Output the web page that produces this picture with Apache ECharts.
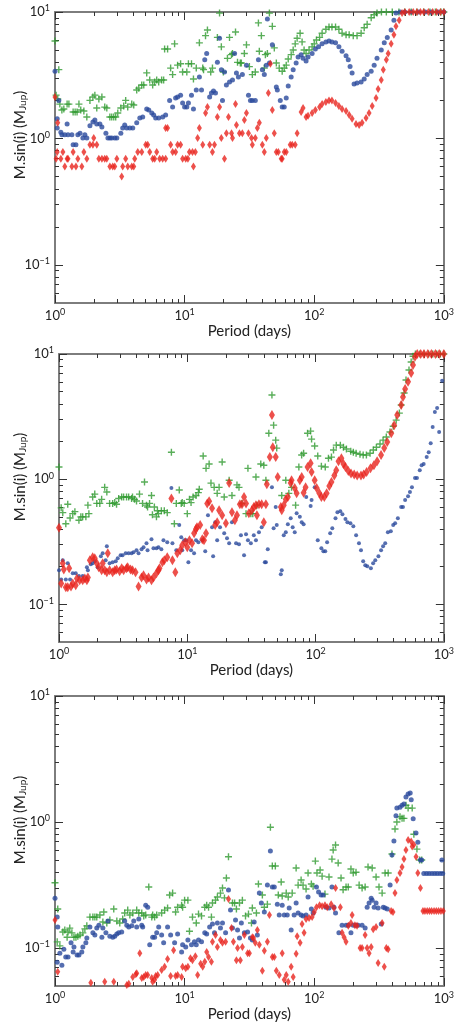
<!DOCTYPE html>
<html>
<head>
<meta charset="utf-8">
<script src="https://cdn.jsdelivr.net/npm/echarts@6/dist/echarts.min.js"></script>
<style>
  html, body { margin: 0; padding: 0; background: #fff; }
  #chart { width: 457px; height: 1026px; }
</style>
</head>
<body>
<div id="chart"></div>
<script>
// tick values
const xMajor = [1, 10, 100, 1000];
const xMinor = [2, 3, 4, 5, 6, 7, 8, 9, 20, 30, 40, 50, 60, 70, 80, 90, 200, 300, 400, 500, 600, 700, 800, 900];
const yMajor = [0.1, 1, 10];
const yMinor = [0.06, 0.07, 0.08, 0.09, 0.2, 0.3, 0.4, 0.5, 0.6, 0.7, 0.8, 0.9, 2, 3, 4, 5, 6, 7, 8, 9];

// panel 1  [period (days), M sin i (MJup)]
const p1Green = [[1.0,5.9],[1.07,3.5],[1.02,2.2],[1.05,2.05],[1.09,1.87],[1.13,1.68],[1.17,1.71],[1.24,1.87],[1.28,1.87],[1.38,1.62],[1.43,1.62],[1.48,1.62],[1.53,1.87],[1.58,1.68],[1.67,1.65],[1.76,1.48],[1.86,2.0],[1.96,2.13],[2.03,2.2],[2.10,1.74],[2.18,2.05],[2.30,2.13],[2.42,1.77],[2.51,1.74],[2.65,1.48],[2.74,1.48],[2.84,1.48],[2.94,1.48],[3.05,1.59],[3.22,1.74],[3.39,1.81],[3.51,2.0],[3.64,1.77],[3.91,1.87],[4.05,1.84],[4.27,2.42],[4.43,2.5],[4.67,2.65],[4.84,2.65],[5.10,3.3],[5.38,2.9],[5.67,2.65],[5.87,2.8],[6.09,2.9],[6.31,2.8],[6.65,2.9],[6.89,2.9],[7.01,5.1],[7.39,5.1],[7.80,3.6],[8.08,3.2],[8.37,5.6],[8.83,3.8],[9.31,3.9],[9.65,3.35],[10.4,3.35],[10.7,3.9],[11.3,3.9],[11.7,2.95],[12.3,3.6],[13.0,5.7],[13.8,3.6],[14.0,3.5],[14.5,6.5],[15.0,7.2],[15.9,3.35],[16.4,3.6],[17.9,6.3],[18.6,9.8],[19.2,5.3],[19.9,3.35],[21.4,4.3],[22.2,6.3],[23.0,4.6],[23.4,4.7],[24.7,6.95],[25.6,4.0],[26.9,3.95],[27.4,3.95],[28.9,4.7],[30.0,5.5],[31.6,3.7],[33.3,3.2],[35.1,3.35],[37.1,8.2],[37.7,4.9],[39.1,6.5],[41.2,3.6],[42.0,4.6],[43.5,4.7],[45.1,9.8],[47.5,7.7],[49.2,5.2],[51.0,3.95],[53.7,3.6],[56.6,3.4],[58.7,3.6],[60.8,3.8],[63.0,4.25],[66.4,4.6],[68.8,5.0],[71.3,5.6],[73.8,6.2],[77.8,6.8],[80.6,5.8],[83.5,5.0],[86.5,4.7],[91.2,5.0],[96.3,5.3],[100,5.6],[104,6.0],[110,6.3],[115,6.8],[123,7.3],[130,7.6],[137,7.6],[146,7.6],[155,7.3],[164,6.8],[176,6.6],[186,6.6],[200,6.5],[214,6.5],[230,6.8],[243,7.5],[256,8.0],[275,9.0],[290,9.5],[305,9.8],[330,10],[360,10],[400,10],[450,10],[500,10],[560,10],[620,10],[700,10],[780,10],[860,10],[950,10],[1000,10]];
const p1Blue = [[1.0,3.4],[1.07,2.0],[1.04,1.43],[1.04,1.21],[1.11,1.12],[1.13,1.07],[1.19,1.07],[1.24,1.30],[1.26,1.07],[1.35,1.07],[1.38,0.89],[1.45,0.89],[1.50,1.07],[1.56,1.10],[1.64,1.01],[1.70,1.07],[1.76,1.01],[1.86,1.26],[1.96,1.35],[2.03,1.40],[2.10,1.30],[2.22,1.30],[2.30,1.23],[2.47,1.10],[2.56,1.01],[2.65,1.01],[2.74,1.01],[2.89,1.01],[3.00,1.01],[3.22,1.10],[3.33,1.21],[3.45,1.28],[3.58,1.21],[3.78,1.21],[3.98,1.21],[4.27,1.33],[4.51,1.45],[4.75,1.48],[5.10,1.71],[5.29,1.68],[5.58,1.59],[5.77,1.53],[5.98,1.45],[6.31,1.45],[6.77,1.48],[7.14,1.53],[7.66,2.0],[8.08,1.77],[8.52,2.09],[8.83,2.13],[9.31,2.2],[9.65,1.91],[10.0,1.77],[10.4,1.77],[10.7,1.91],[11.3,2.2],[11.7,1.71],[12.3,2.42],[13.0,3.06],[13.5,2.42],[14.3,4.2],[14.8,4.7],[15.6,2.13],[16.1,2.29],[16.7,2.37],[17.3,2.29],[17.9,4.0],[18.6,6.2],[19.2,3.5],[19.6,2.0],[20.3,3.35],[21.0,2.65],[22.2,2.8],[23.4,2.9],[24.3,4.7],[25.1,3.3],[26.0,3.06],[27.9,3.2],[30.0,3.8],[31.1,2.2],[32.2,2.0],[33.3,2.0],[35.1,2.0],[37.1,4.2],[39.8,3.5],[41.2,3.2],[42.7,3.8],[43.5,8.8],[45.1,3.95],[47.5,5.5],[51.0,2.55],[51.9,2.42],[54.7,2.0],[56.6,1.77],[58.7,1.77],[60.8,2.09],[63.0,2.6],[66.4,3.06],[68.8,3.5],[72.5,3.95],[75.1,4.4],[79.2,4.6],[82.0,4.3],[86.5,4.1],[89.6,4.4],[96.3,4.7],[102,5.1],[108,5.3],[115,5.6],[123,5.8],[130,5.9],[137,5.8],[146,5.7],[155,5.3],[164,4.9],[176,4.5],[183,4.2],[189,3.7],[196,3.3],[203,2.7],[214,2.75],[230,2.8],[243,2.95],[256,3.2],[275,3.4],[290,3.8],[305,4.3],[329,5.0],[347,5.7],[366,6.3],[392,7.2],[412,8.6],[427,9.8],[460,10],[500,10],[560,10],[640,10],[720,10],[800,10],[900,10],[1000,10]];
const p1Red = [[1.0,2.13],[1.05,1.33],[1.04,0.78],[1.02,0.69],[1.11,0.69],[1.19,0.60],[1.15,0.78],[1.24,0.69],[1.26,0.69],[1.35,0.60],[1.38,0.78],[1.45,0.60],[1.50,0.69],[1.61,0.60],[1.67,0.78],[1.76,0.69],[1.86,0.89],[1.96,0.89],[1.99,1.01],[2.10,0.89],[2.18,0.69],[2.30,0.69],[2.42,0.69],[2.51,0.69],[2.65,0.60],[2.79,0.60],[2.89,0.60],[3.00,0.69],[3.27,0.50],[3.33,0.60],[3.51,0.69],[3.64,0.60],[3.91,0.60],[4.05,0.60],[4.12,0.69],[4.35,0.78],[4.67,0.78],[5.01,0.89],[5.19,0.89],[5.38,0.78],[5.67,0.69],[5.87,0.69],[6.09,0.78],[6.42,0.69],[6.77,0.69],[7.14,0.69],[7.14,1.21],[7.39,1.21],[7.80,0.89],[8.08,0.78],[8.52,0.78],[8.83,0.89],[9.31,0.89],[9.65,0.69],[10.2,0.69],[10.6,0.69],[10.9,0.78],[11.5,0.78],[11.7,0.60],[12.1,0.78],[12.6,1.01],[13.0,1.21],[13.8,0.89],[14.5,1.59],[15.0,1.77],[15.6,0.89],[16.4,0.78],[17.0,0.89],[17.9,1.48],[18.6,1.77],[19.2,1.01],[20.3,0.69],[21.0,1.10],[21.8,1.48],[23.0,1.10],[23.4,1.01],[24.7,1.87],[25.1,1.28],[26.5,1.10],[27.9,1.10],[28.9,1.40],[30.0,1.59],[31.1,1.10],[32.8,1.01],[33.3,0.89],[35.1,1.01],[36.4,1.21],[37.7,1.33],[39.8,0.89],[41.2,0.78],[42.7,1.01],[44.3,2.29],[45.9,3.9],[47.5,1.68],[49.2,1.10],[51.0,0.78],[52.8,0.78],[55.6,0.69],[56.6,0.69],[58.7,0.78],[60.8,0.78],[65.3,0.89],[67.6,0.89],[71.3,0.89],[73.8,1.10],[79.2,1.62],[82.0,1.74],[86.5,1.48],[89.6,1.51],[96.3,1.59],[102,1.68],[110,1.77],[115,1.87],[123,1.94],[130,2.0],[137,2.0],[146,1.91],[155,1.81],[164,1.71],[176,1.65],[186,1.53],[196,1.43],[210,1.30],[222,1.28],[234,1.33],[251,1.45],[265,1.59],[280,1.81],[300,2.09],[311,2.46],[329,2.9],[341,3.5],[360,4.2],[372,4.7],[392,5.6],[412,6.6],[427,7.7],[452,8.6],[476,9.8],[500,10],[540,10],[580,10],[620,10],[660,10],[700,10],[760,10],[820,10],[880,10],[940,10],[1000,10]];

// panel 2
const p2Green = [[1.0,1.25],[1.04,0.59],[1.07,0.54],[1.13,0.44],[1.17,0.63],[1.22,0.49],[1.28,0.53],[1.33,0.55],[1.43,0.47],[1.48,0.50],[1.53,0.50],[1.62,0.50],[1.68,0.62],[1.71,0.53],[1.83,0.72],[1.90,0.76],[1.97,0.64],[2.08,0.64],[2.15,0.69],[2.27,0.86],[2.36,0.79],[2.48,0.64],[2.62,0.64],[2.72,0.65],[2.81,0.63],[2.92,0.70],[3.08,0.72],[3.19,0.72],[3.36,0.72],[3.49,0.72],[3.68,0.70],[3.74,0.72],[3.88,0.69],[4.02,0.67],[4.24,0.76],[4.48,0.64],[4.64,0.95],[4.81,0.62],[4.90,0.60],[5.08,0.64],[5.26,0.74],[5.35,0.52],[5.54,0.60],[5.75,0.50],[5.85,0.56],[5.96,0.53],[6.28,0.56],[6.62,0.56],[6.98,0.54],[7.52,1.64],[7.93,0.44],[8.21,0.64],[8.66,0.82],[8.97,0.64],[9.13,0.65],[9.46,0.64],[10.0,0.53],[10.4,0.69],[10.7,0.65],[11.1,0.72],[11.7,0.74],[12.2,0.78],[12.4,0.83],[13.3,1.53],[14.0,1.22],[14.8,1.32],[15.3,0.93],[16.2,0.86],[17.1,0.77],[17.7,0.86],[18.7,1.37],[19.4,0.72],[21.2,0.98],[22.3,0.74],[24.4,0.90],[25.3,0.86],[26.7,0.64],[28.7,0.53],[29.7,1.22],[31.3,0.53],[32.4,0.53],[34.3,1.04],[34.9,0.62],[37.4,1.32],[39.5,1.29],[41.0,0.98],[43.2,2.33],[45.7,4.7],[47.1,2.70],[48.9,2.05],[49.8,1.77],[54.5,0.74],[58.6,0.98],[61.9,0.77],[65.0,0.86],[69.9,0.62],[74.1,1.25],[77.9,1.56],[80.7,1.61],[86.6,2.33],[91.5,2.42],[93.1,2.09],[98.4,1.84],[104,1.53],[111,1.27],[119,1.25],[126,1.47],[133,1.50],[138,1.71],[145,1.87],[156,1.87],[165,1.80],[174,1.74],[188,1.67],[197,1.64],[207,1.61],[222,1.58],[235,1.56],[249,1.56],[266,1.61],[282,1.71],[298,1.80],[318,1.91],[336,2.05],[356,2.17],[380,2.38],[403,2.65],[425,2.96],[450,3.37],[465,3.91],[490,4.88],[507,6.19],[535,7.45],[556,8.63],[575,9.6],[600,10],[650,10],[700,10],[760,10],[820,10],[880,10],[940,10],[1000,10]];
const p2Blue = [[1.0,0.187],[1.04,0.158],[1.07,0.225],[1.13,0.158],[1.17,0.213],[1.22,0.158],[1.28,0.177],[1.35,0.177],[1.43,0.168],[1.53,0.168],[1.65,0.198],[1.68,0.187],[1.77,0.209],[1.83,0.213],[1.90,0.221],[2.00,0.198],[2.12,0.242],[2.19,0.256],[2.31,0.225],[2.36,0.291],[2.48,0.213],[2.62,0.217],[2.77,0.221],[2.87,0.233],[3.02,0.247],[3.13,0.247],[3.31,0.256],[3.49,0.256],[3.68,0.256],[3.81,0.261],[4.02,0.270],[4.17,0.256],[4.40,0.275],[4.56,0.286],[4.81,0.308],[4.90,0.270],[5.26,0.331],[5.45,0.281],[5.75,0.281],[5.96,0.286],[6.28,0.275],[6.52,0.325],[6.98,0.313],[7.52,0.85],[7.66,0.308],[8.21,0.270],[8.66,0.43],[8.97,0.344],[9.13,0.270],[9.46,0.325],[9.82,0.325],[10.2,0.217],[10.7,0.270],[11.3,0.256],[11.7,0.325],[12.2,0.313],[13.1,0.325],[13.8,0.265],[14.5,0.515],[15.6,0.413],[15.9,0.242],[16.5,0.453],[17.1,0.325],[18.0,0.413],[19.4,0.370],[20.4,0.337],[21.2,0.308],[22.3,0.453],[24.0,0.308],[25.3,0.302],[26.2,0.356],[27.7,0.247],[28.7,0.363],[29.7,0.325],[31.3,0.308],[33.0,0.356],[34.3,0.325],[36.2,0.377],[38.0,0.413],[40.2,0.217],[41.0,0.217],[42.4,0.275],[45.7,0.86],[47.1,0.405],[48.9,0.60],[49.8,0.43],[53.6,0.174],[54.5,0.187],[56.5,0.356],[58.6,0.377],[60.8,0.436],[64.0,0.488],[66.3,0.413],[68.8,0.377],[71.2,0.535],[75.4,0.50],[78.0,0.453],[80.7,0.436],[84.6,0.72],[91.5,0.61],[93.1,0.68],[98.4,0.86],[104,0.325],[111,0.281],[115,0.265],[119,0.265],[123,0.313],[130,0.370],[135,0.405],[143,0.488],[148,0.545],[156,0.555],[162,0.525],[171,0.48],[177,0.453],[187,0.445],[197,0.42],[207,0.356],[218,0.308],[226,0.270],[235,0.221],[244,0.205],[253,0.201],[270,0.194],[281,0.213],[292,0.225],[309,0.242],[324,0.270],[336,0.291],[349,0.308],[366,0.377],[386,0.384],[403,0.43],[417,0.445],[438,0.488],[465,0.60],[480,0.60],[499,0.68],[526,0.73],[544,0.79],[564,0.86],[596,1.02],[617,1.02],[649,1.18],[671,1.29],[696,1.32],[735,1.50],[762,1.64],[790,1.94],[818,2.61],[851,3.44],[886,3.70],[919,2.38],[970,6.1]];
const p2Red = [[1.0,0.41],[1.04,0.147],[1.07,0.213],[1.09,0.19],[1.13,0.137],[1.17,0.137],[1.20,0.194],[1.24,0.139],[1.28,0.147],[1.35,0.142],[1.38,0.161],[1.45,0.156],[1.53,0.156],[1.59,0.161],[1.65,0.156],[1.68,0.164],[1.74,0.225],[1.83,0.238],[1.90,0.233],[1.97,0.213],[2.04,0.198],[2.15,0.187],[2.19,0.213],[2.27,0.187],[2.36,0.180],[2.40,0.256],[2.48,0.187],[2.62,0.180],[2.72,0.187],[2.81,0.19],[2.97,0.184],[3.08,0.194],[3.19,0.187],[3.36,0.194],[3.43,0.198],[3.61,0.19],[3.74,0.187],[3.95,0.180],[4.17,0.139],[4.40,0.164],[4.56,0.171],[4.81,0.158],[4.99,0.164],[5.26,0.156],[5.45,0.164],[5.75,0.177],[5.96,0.187],[6.07,0.194],[6.40,0.217],[6.62,0.225],[6.98,0.238],[7.52,0.70],[7.66,0.225],[8.07,0.180],[8.36,0.256],[8.81,0.270],[9.13,0.296],[9.65,0.313],[10.0,0.286],[10.4,0.325],[10.9,0.308],[11.3,0.370],[11.7,0.40],[11.9,0.413],[12.6,0.43],[13.1,0.331],[13.5,0.325],[14.0,0.370],[14.3,0.64],[14.8,0.667],[15.6,0.586],[16.5,0.43],[17.1,0.453],[17.7,0.565],[18.7,0.515],[20.0,0.445],[21.2,0.93],[22.3,0.545],[23.5,0.47],[24.4,0.515],[25.7,0.63],[26.7,0.63],[27.7,0.72],[28.7,0.64],[30.2,0.535],[31.9,0.565],[33.0,0.60],[34.3,0.62],[34.9,0.515],[36.2,0.63],[38.0,0.63],[39.5,0.453],[41.0,0.63],[41.7,0.91],[44.0,1.50],[45.7,3.25],[46.4,1.80],[48.9,1.50],[50.7,1.04],[53.6,0.60],[54.5,0.565],[56.5,0.62],[58.6,0.69],[60.8,0.72],[64.0,0.93],[65.0,0.98],[68.8,0.85],[71.2,0.77],[75.4,0.98],[78.0,1.04],[80.7,0.78],[83.6,0.86],[86.6,1.25],[91.5,1.34],[93.1,1.14],[98.4,0.98],[102,0.85],[107,0.77],[111,0.72],[117,0.72],[122,0.77],[128,0.88],[133,0.95],[140,1.07],[145,1.18],[151,1.39],[159,1.47],[165,1.32],[171,1.25],[180,1.16],[189,1.11],[200,1.09],[211,1.07],[226,1.07],[237,1.09],[250,1.14],[268,1.22],[285,1.29],[302,1.39],[324,1.56],[343,1.77],[362,1.98],[389,2.33],[410,2.70],[433,3.25],[465,3.91],[480,4.53],[499,5.25],[526,6.0],[556,7.05],[575,8.17],[596,9.5],[620,10],[660,10],[700,10],[750,10],[800,10],[860,10],[920,10],[1000,10]];

// panel 3
const p3Green = [[1.0,0.33],[1.05,0.204],[1.04,0.112],[1.09,0.104],[1.15,0.134],[1.19,0.139],[1.24,0.122],[1.26,0.134],[1.30,0.144],[1.35,0.132],[1.40,0.122],[1.45,0.122],[1.50,0.124],[1.56,0.127],[1.64,0.132],[1.70,0.142],[1.76,0.150],[1.86,0.176],[1.96,0.176],[2.03,0.176],[2.10,0.176],[2.22,0.183],[2.34,0.161],[2.38,0.193],[2.51,0.158],[2.65,0.167],[2.84,0.204],[3.00,0.164],[3.16,0.158],[3.33,0.170],[3.45,0.190],[3.64,0.200],[3.78,0.183],[3.98,0.190],[4.27,0.200],[4.43,0.190],[4.67,0.190],[4.84,0.180],[5.01,0.183],[5.29,0.305],[5.58,0.176],[5.67,0.183],[5.87,0.176],[6.09,0.183],[6.65,0.190],[7.01,0.200],[7.39,0.208],[7.66,0.264],[8.08,0.273],[8.52,0.193],[8.83,0.211],[9.48,0.219],[9.65,0.211],[10.0,0.240],[10.6,0.240],[10.9,0.136],[11.5,0.176],[12.3,0.158],[12.8,0.186],[13.5,0.180],[14.3,0.211],[14.8,0.219],[15.3,0.211],[16.1,0.176],[16.4,0.228],[17.3,0.240],[17.9,0.254],[18.9,0.273],[19.6,0.30],[20.3,0.25],[21.0,0.36],[21.8,0.53],[23.4,0.228],[24.3,0.228],[25.1,0.204],[26.5,0.228],[27.9,0.240],[29.5,0.180],[31.1,0.186],[32.8,0.158],[33.3,0.208],[35.8,0.190],[37.1,0.322],[39.8,0.264],[41.2,0.211],[43.5,0.223],[45.9,0.91],[47.5,0.448],[50.1,0.448],[52.8,0.264],[55.6,0.334],[56.6,0.259],[60.8,0.273],[63.0,0.254],[67.6,0.273],[72.5,0.432],[75.1,0.316],[79.2,0.347],[82.0,0.316],[86.5,0.294],[89.6,0.394],[95,0.322],[98,0.31],[102,0.49],[105,0.394],[111,0.416],[115,0.372],[121,0.268],[130,0.366],[137,0.508],[140,0.60],[146,0.657],[153,0.473],[161,0.36],[167,0.29],[176,0.305],[183,0.305],[192,0.424],[200,0.394],[210,0.40],[222,0.316],[234,0.30],[247,0.305],[260,0.44],[280,0.432],[300,0.366],[316,0.305],[334,0.273],[352,0.394],[372,0.394],[398,0.557],[420,0.88],[434,1.0],[459,1.10],[476,1.07],[492,1.07],[510,1.36],[530,1.29],[570,1.29],[587,0.80],[620,0.61],[650,0.50],[675,0.50]];
const p3Blue = [[1.0,0.249],[1.04,0.176],[1.05,0.147],[1.04,0.077],[1.09,0.091],[1.13,0.073],[1.17,0.098],[1.21,0.085],[1.26,0.085],[1.33,0.110],[1.38,0.093],[1.40,0.102],[1.48,0.088],[1.53,0.088],[1.61,0.093],[1.64,0.102],[1.73,0.110],[1.76,0.120],[1.86,0.147],[1.96,0.132],[2.03,0.127],[2.10,0.144],[2.18,0.152],[2.30,0.122],[2.34,0.144],[2.47,0.132],[2.56,0.164],[2.65,0.124],[2.79,0.122],[2.89,0.124],[3.00,0.129],[3.10,0.132],[3.27,0.134],[3.45,0.164],[3.58,0.152],[3.71,0.147],[3.91,0.150],[4.05,0.164],[4.27,0.147],[4.43,0.170],[4.67,0.152],[4.75,0.147],[5.01,0.219],[5.19,0.211],[5.38,0.106],[5.67,0.122],[5.87,0.122],[6.09,0.132],[6.31,0.147],[6.65,0.127],[6.89,0.110],[7.39,0.147],[7.80,0.127],[8.37,0.110],[8.83,0.129],[9.48,0.093],[9.65,0.106],[10.2,0.102],[10.6,0.116],[11.3,0.106],[11.9,0.112],[12.3,0.106],[12.8,0.116],[13.5,0.112],[14.3,0.132],[14.8,0.129],[15.6,0.147],[16.4,0.155],[17.0,0.132],[17.9,0.158],[18.9,0.144],[19.6,0.158],[20.7,0.132],[21.8,0.289],[22.6,0.200],[23.4,0.144],[24.7,0.167],[25.6,0.139],[26.5,0.120],[27.4,0.158],[28.9,0.132],[30.6,0.134],[32.2,0.120],[33.3,0.116],[34.4,0.161],[36.4,0.127],[37.7,0.273],[39.1,0.228],[41.2,0.193],[43.5,0.316],[45.9,0.59],[47.5,0.305],[49.2,0.305],[51.9,0.223],[53.7,0.183],[56.6,0.219],[58.7,0.183],[61.9,0.183],[64.1,0.208],[66.4,0.139],[70.0,0.183],[72.5,0.228],[75.1,0.190],[79.2,0.183],[82.0,0.180],[86.5,0.183],[89.6,0.254],[95,0.204],[98,0.190],[104,0.305],[108,0.278],[113,0.264],[117,0.264],[123,0.211],[130,0.208],[137,0.305],[142,0.211],[146,0.190],[155,0.132],[164,0.152],[176,0.152],[183,0.152],[192,0.132],[200,0.152],[210,0.152],[218,0.152],[234,0.152],[247,0.144],[256,0.211],[265,0.228],[275,0.249],[280,0.240],[290,0.211],[300,0.228],[311,0.208],[329,0.155],[341,0.211],[352,0.208],[366,0.204],[385,0.316],[398,0.547],[412,0.706],[427,1.12],[434,1.29],[459,1.31],[476,1.36],[492,1.39],[510,1.58],[530,1.67],[550,1.70],[560,1.50],[580,1.06],[610,0.82],[630,0.69],[660,0.50],[675,0.50],[700,0.39],[735,0.39],[770,0.39],[810,0.39],[850,0.39],[890,0.39],[935,0.39],[980,0.39],[966,0.50]];
const p3Red = [[1.0,0.167],[1.05,0.065],[1.89,0.053],[2.42,0.054],[2.84,0.054],[3.58,0.051],[3.71,0.052],[3.98,0.059],[4.20,0.062],[4.27,0.063],[4.51,0.091],[4.67,0.058],[4.84,0.059],[5.01,0.061],[5.19,0.061],[5.58,0.058],[5.67,0.054],[5.87,0.056],[5.98,0.060],[6.20,0.061],[6.65,0.067],[7.01,0.071],[7.39,0.082],[7.80,0.060],[8.22,0.096],[8.52,0.060],[8.83,0.061],[9.48,0.059],[9.65,0.071],[10.2,0.069],[10.6,0.071],[11.1,0.083],[11.5,0.080],[12.1,0.086],[12.6,0.061],[13.3,0.075],[13.8,0.071],[14.3,0.078],[14.8,0.093],[15.3,0.085],[16.1,0.078],[16.4,0.112],[17.3,0.127],[17.9,0.102],[18.9,0.116],[19.6,0.110],[20.7,0.112],[21.8,0.245],[23.0,0.144],[23.8,0.112],[25.1,0.080],[25.6,0.100],[26.9,0.080],[27.9,0.102],[28.9,0.127],[30.6,0.091],[31.6,0.091],[33.3,0.122],[34.0,0.120],[35.1,0.110],[36.4,0.139],[37.7,0.106],[39.8,0.066],[41.2,0.095],[43.5,0.112],[45.1,0.183],[47.5,0.085],[49.2,0.085],[51.0,0.066],[53.7,0.061],[56.6,0.091],[58.7,0.056],[60.8,0.061],[63.0,0.054],[66.4,0.071],[68.8,0.059],[72.5,0.090],[73.8,0.124],[77.8,0.110],[80.6,0.155],[83.5,0.132],[86.5,0.170],[91.2,0.173],[96.3,0.176],[100,0.193],[104,0.211],[110,0.219],[115,0.215],[121,0.219],[126,0.211],[135,0.223],[142,0.208],[146,0.30],[159,0.211],[164,0.132],[170,0.122],[176,0.112],[183,0.150],[192,0.158],[196,0.183],[206,0.152],[214,0.150],[226,0.100],[234,0.100],[247,0.127],[256,0.100],[265,0.091],[275,0.102],[285,0.141],[300,0.147],[311,0.076],[334,0.158],[347,0.071],[360,0.100],[372,0.098],[392,0.197],[405,0.193],[420,0.273],[434,0.347],[459,0.394],[476,0.44],[492,0.51],[510,0.60],[530,0.72],[560,0.70],[570,0.64],[587,0.66],[610,0.53],[630,0.394],[660,0.30],[690,0.197],[715,0.197],[745,0.197],[775,0.197],[805,0.197],[840,0.197],[875,0.197],[910,0.197],[950,0.197],[990,0.197]];

const FONT = 'Lato';
const frame = '#7d7d7d';
const tickColor = '#333';
const plusPath = 'path://M4,0L6,0L6,4L10,4L10,6L6,6L6,10L4,10L4,6L0,6L0,4L4,4Z';

// plot boxes, plus where each y-axis title sits
const grids = [
  { left: 55, top: 12, width: 391, height: 291, nameY: 135 },
  { left: 59, top: 354, width: 387, height: 288, nameY: 477 },
  { left: 55, top: 696, width: 390, height: 290, nameY: 820 }
];

function powLabel(v) {
  const e = Math.round(Math.log10(v));
  return '{b|10}{s|' + (e < 0 ? '\u2212' + (-e) : e) + '}';
}
const supRich = {
  b: { fontFamily: FONT, fontSize: 13, color: '#222', lineHeight: 16 },
  s: { fontFamily: FONT, fontSize: 9, color: '#222', lineHeight: 10, verticalAlign: 'top' }
};

const xAxes = [];
const yAxes = [];
grids.forEach((g, i) => {
  const base = { gridIndex: i, type: 'log', logBase: 10, splitLine: { show: false } };
  const xb = Object.assign({}, base, { min: 1, max: 1000 });
  const yb = Object.assign({}, base, { min: 0.05, max: 10 });
  const line = { show: true, onZero: false, lineStyle: { color: frame, width: 2 } };
  const major = vals => ({ show: true, inside: true, length: 8, customValues: vals, lineStyle: { color: tickColor, width: 1 } });
  const minor = vals => ({ show: true, inside: true, length: 4, customValues: vals, lineStyle: { color: tickColor, width: 1 } });
  // bottom / top
  xAxes.push(Object.assign({}, xb, {
    position: 'bottom', axisLine: line, axisTick: major(xMajor),
    axisLabel: { customValues: xMajor, formatter: powLabel, rich: supRich, margin: 5 },
    name: 'Period (days)', nameLocation: 'middle', nameGap: 11,
    nameTextStyle: { fontFamily: FONT, fontSize: 15, color: '#222' }
  }));
  xAxes.push(Object.assign({}, xb, { position: 'bottom', axisLine: { show: false }, axisTick: minor(xMinor), axisLabel: { show: false } }));
  xAxes.push(Object.assign({}, xb, { position: 'top', axisLine: line, axisTick: major(xMajor), axisLabel: { show: false } }));
  xAxes.push(Object.assign({}, xb, { position: 'top', axisLine: { show: false }, axisTick: minor(xMinor), axisLabel: { show: false } }));
  // left / right
  yAxes.push(Object.assign({}, yb, {
    position: 'left', axisLine: line, axisTick: major(yMajor),
    axisLabel: { customValues: yMajor, formatter: powLabel, rich: supRich, margin: 5 }
  }));
  yAxes.push(Object.assign({}, yb, { position: 'left', axisLine: { show: false }, axisTick: minor(yMinor), axisLabel: { show: false } }));
  yAxes.push(Object.assign({}, yb, { position: 'right', axisLine: line, axisTick: major(yMajor), axisLabel: { show: false } }));
  yAxes.push(Object.assign({}, yb, { position: 'right', axisLine: { show: false }, axisTick: minor(yMinor), axisLabel: { show: false } }));
});

// y titles sit above the box centre in the original, so they are placed by hand
const yTitles = grids.map(g => ({
  type: 'text', x: 20, y: g.nameY, rotation: Math.PI / 2, silent: true,
  style: {
    text: 'M.sin(i) (M{s|Jup})', fontFamily: FONT, fontSize: 15, fill: '#222',
    align: 'center', verticalAlign: 'middle',
    rich: { s: { fontFamily: FONT, fontSize: 10, fill: '#222', verticalAlign: 'bottom', lineHeight: 11 } }
  }
}));

const panels = [
  { green: p1Green, blue: p1Blue, red: p1Red, dot: 5, dia: [5, 8], plus: 7 },
  { green: p2Green, blue: p2Blue, red: p2Red, dot: 4, dia: [6, 10], plus: 7 },
  { green: p3Green, blue: p3Blue, red: p3Red, dot: 5, dia: [5, 8], plus: 7 }
];

const series = [];
panels.forEach((p, i) => {
  const common = { type: 'scatter', xAxisIndex: i * 4, yAxisIndex: i * 4, silent: true };
  series.push(Object.assign({}, common, { data: p.green, symbol: plusPath, symbolSize: p.plus, itemStyle: { color: '#2f9a2f' } }));
  series.push(Object.assign({}, common, { data: p.blue, symbol: 'circle', symbolSize: p.dot, itemStyle: { color: '#2b4a9c' } }));
  series.push(Object.assign({}, common, { data: p.red, symbol: 'diamond', symbolSize: p.dia, itemStyle: { color: '#e8241e' } }));
});

const chart = echarts.init(document.getElementById('chart'));
chart.setOption({
  animation: false,
  backgroundColor: '#fff',
  grid: grids.map(g => ({ left: g.left, top: g.top, width: g.width, height: g.height })),
  xAxis: xAxes,
  yAxis: yAxes,
  graphic: yTitles,
  series: series
});
</script>
</body>
</html>
